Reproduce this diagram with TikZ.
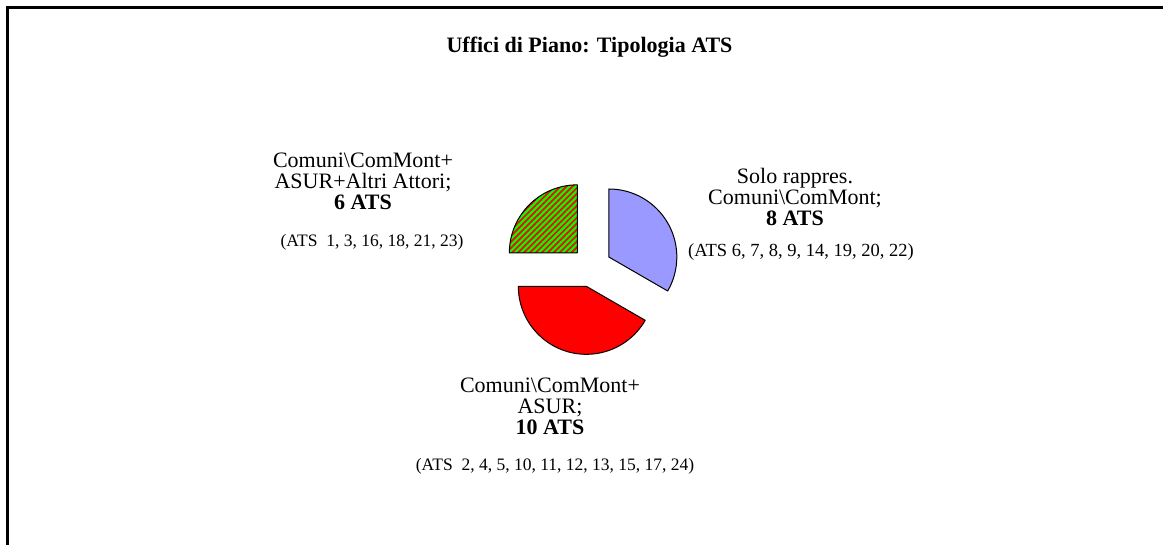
\documentclass[tikz,border=0pt]{standalone}
\usepackage{fontspec}
\setmainfont{Liberation Serif}
\usetikzlibrary{calc,patterns.meta}
\definecolor{lavslice}{RGB}{153,153,255}

\begin{document}
\begin{tikzpicture}[x=1pt,y=1pt,
    slice/.style={draw=black, line width=1pt, line join=round},
    lbl/.style={align=center, inner sep=0pt, font=\fontsize{22}{21}\selectfont},
    ats/.style={inner sep=0pt, font=\fontsize{17.5}{20}\selectfont}]
        \useasboundingbox (0,0) rectangle (1163,545);
        \draw[line width=2.5pt] (7.5,0) -- (7.5,537.5) -- (1163,537.5);

        \node[inner sep=0pt, font=\bfseries\fontsize{22}{24}\selectfont] (title) at (589.5,498) {Uffici di Piano: Tipologia ATS};

        \coordinate (C) at (591.5,278);

        % slices, each pulled out from the centre
        \filldraw[slice, fill=lavslice] ($(C)+(30:20)$) -- ++(90:68) arc[start angle=90, end angle=-30, radius=68] -- cycle;
        \filldraw[slice, fill=red] ($(C)+(-105:20)$) -- ++(-30:68) arc[start angle=-30, end angle=-180, radius=68] -- cycle;
        \filldraw[slice, preaction={fill=green}, pattern={Lines[angle=45, distance=4.2pt, line width=1.7pt]}, pattern color=red] ($(C)+(135:20)$) -- ++(180:68) arc[start angle=180, end angle=90, radius=68] -- cycle;

        \node[lbl] (lblGreen) at (363,364) {Comuni\textbackslash ComMont+\\ASUR+Altri Attori;\\\textbf{6 ATS}};
        \node[ats] (atsGreen) at (372,303) {(ATS\ \ 1, 3, 16, 18, 21, 23)};

        \node[lbl] (lblBlue) at (795,348) {Solo rappres.\\Comuni\textbackslash ComMont;\\\textbf{8 ATS}};
        \node[ats, font=\fontsize{18.5}{20}\selectfont] (atsBlue) at (801,293) {(ATS 6, 7, 8, 9, 14, 19, 20, 22)};

        \node[lbl] (lblRed) at (550,139) {Comuni\textbackslash ComMont+\\ASUR;\\\textbf{10 ATS}};
        \node[ats] (atsRed) at (555,79) {(ATS\ \ 2, 4, 5, 10, 11, 12, 13, 15, 17, 24)};
\end{tikzpicture}
\end{document}
